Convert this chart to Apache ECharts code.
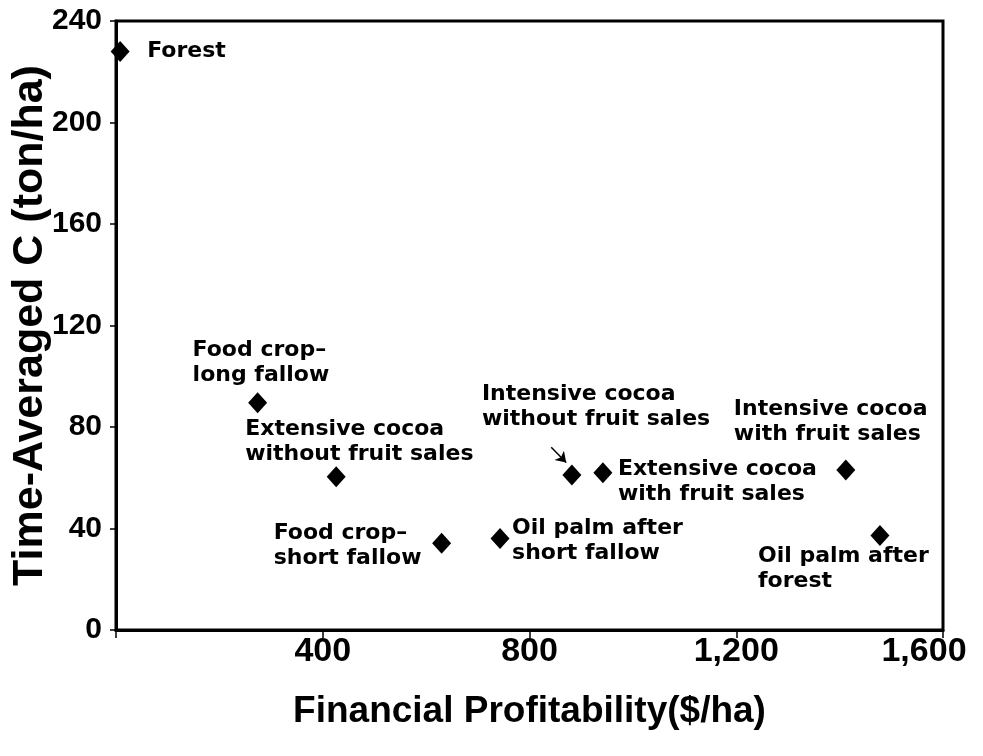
<!DOCTYPE html>
<html>
<head>
<meta charset="utf-8">
<script src="https://cdn.jsdelivr.net/npm/echarts@6/dist/echarts.min.js"></script>
<style>
html,body{margin:0;padding:0;background:#fff;}
#c{width:983px;height:756px;}
</style>
</head>
<body>
<div id="c"></div>
<script>
// Data
var names = [
  'Forest',
  'Food crop–\nlong fallow',
  'Extensive cocoa\nwithout fruit sales',
  'Food crop–\nshort fallow',
  'Oil palm after\nshort fallow',
  'Intensive cocoa\nwithout fruit sales',
  'Extensive cocoa\nwith fruit sales',
  'Intensive cocoa\nwith fruit sales',
  'Oil palm after\nforest'
];
var profit = [8, 274, 426, 630, 743, 882, 942, 1412, 1478];
var carbon = [228, 89.6, 60.4, 34.2, 36.1, 61.1, 62.0, 63.1, 37.2];
// label offsets (px) relative to the marker
var labelOffsets = [[27,0],[-65,-40],[-91,-35],[-168,3],[12,2],[-90,-68],[15,9],[-112,-48],[-122,33]];
var arrowFrom = [842, 72];
var arrowTo = [871, 66];
var xTicks = [0, 400, 800, 1200, 1600];
var yTicks = [0, 40, 80, 120, 160, 200, 240];

var data = names.map(function(n, i){
  return {
    value: [profit[i], carbon[i]],
    name: n,
    label: {
      show: true,
      position: 'inside',
      offset: labelOffsets[i],
      align: 'left',
      verticalAlign: 'middle',
      formatter: '{b}',
      color: '#000',
      opacity: 1,
      textBorderWidth: 0,
      fontFamily: 'DejaVu Sans',
      fontWeight: 'bold',
      fontSize: 22,
      lineHeight: 25
    }
  };
});

var tickFont = {color: '#000', fontFamily: 'Liberation Sans', fontWeight: 'bold', fontSize: 34};

var chart = echarts.init(document.getElementById('c'));
chart.setOption({
  animation: false,
  backgroundColor: '#fff',
  grid: {left: 116, right: 40, top: 21, bottom: 126, show: true, borderColor: '#000', borderWidth: 3,
         containLabel: false, outerBoundsMode: 'none'},
  xAxis: {
    type: 'value', min: xTicks[0], max: xTicks[xTicks.length - 1], interval: 400,
    name: 'Financial Profitability($/ha)', nameLocation: 'middle', nameGap: 63,
    nameTextStyle: {fontFamily: 'Liberation Sans', fontWeight: 'bold', fontSize: 37, color: '#000'},
    axisLine: {show: true, lineStyle: {color: '#000', width: 3}},
    axisTick: {show: true, length: 8, lineStyle: {color: '#000', width: 1.5}},
    splitLine: {show: false},
    axisLabel: {
      margin: 5, color: '#000', fontFamily: 'Liberation Sans', fontWeight: 'bold', fontSize: 34,
      rich: {
        n: tickFont,
        m: Object.assign({padding: [0, 38, 0, 0]}, tickFont)
      },
      formatter: function(v){
        if (v === 0) return '';
        var s = v.toLocaleString('en-US');
        return v === 1600 ? '{m|' + s + '}' : '{n|' + s + '}';
      }
    }
  },
  yAxis: {
    type: 'value', min: yTicks[0], max: yTicks[yTicks.length - 1], interval: 40,
    name: 'Time-Averaged C (ton/ha)', nameLocation: 'middle', nameGap: 64, nameMoveOverlap: false,
    nameTextStyle: {fontFamily: 'Liberation Sans', fontWeight: 'bold', fontSize: 43, color: '#000'},
    axisLine: {show: true, lineStyle: {color: '#000', width: 3}},
    axisTick: {show: true, length: 6, lineStyle: {color: '#000', width: 1.5}},
    splitLine: {show: false},
    axisLabel: {
      margin: 14, color: '#000', fontFamily: 'Liberation Sans', fontWeight: 'bold', fontSize: 30,
      padding: [0, 0, 10, 0]
    }
  },
  series: [{
    type: 'scatter',
    symbol: 'diamond',
    symbolSize: [19, 21],
    itemStyle: {color: '#000', opacity: 1},
    data: data,
    markLine: {
      silent: true,
      symbol: ['none', 'arrow'],
      symbolSize: 10,
      label: {show: false},
      lineStyle: {color: '#000', width: 1.5, type: 'solid', opacity: 1},
      data: [[{coord: arrowFrom}, {coord: arrowTo}]]
    }
  }]
});
</script>
</body>
</html>
